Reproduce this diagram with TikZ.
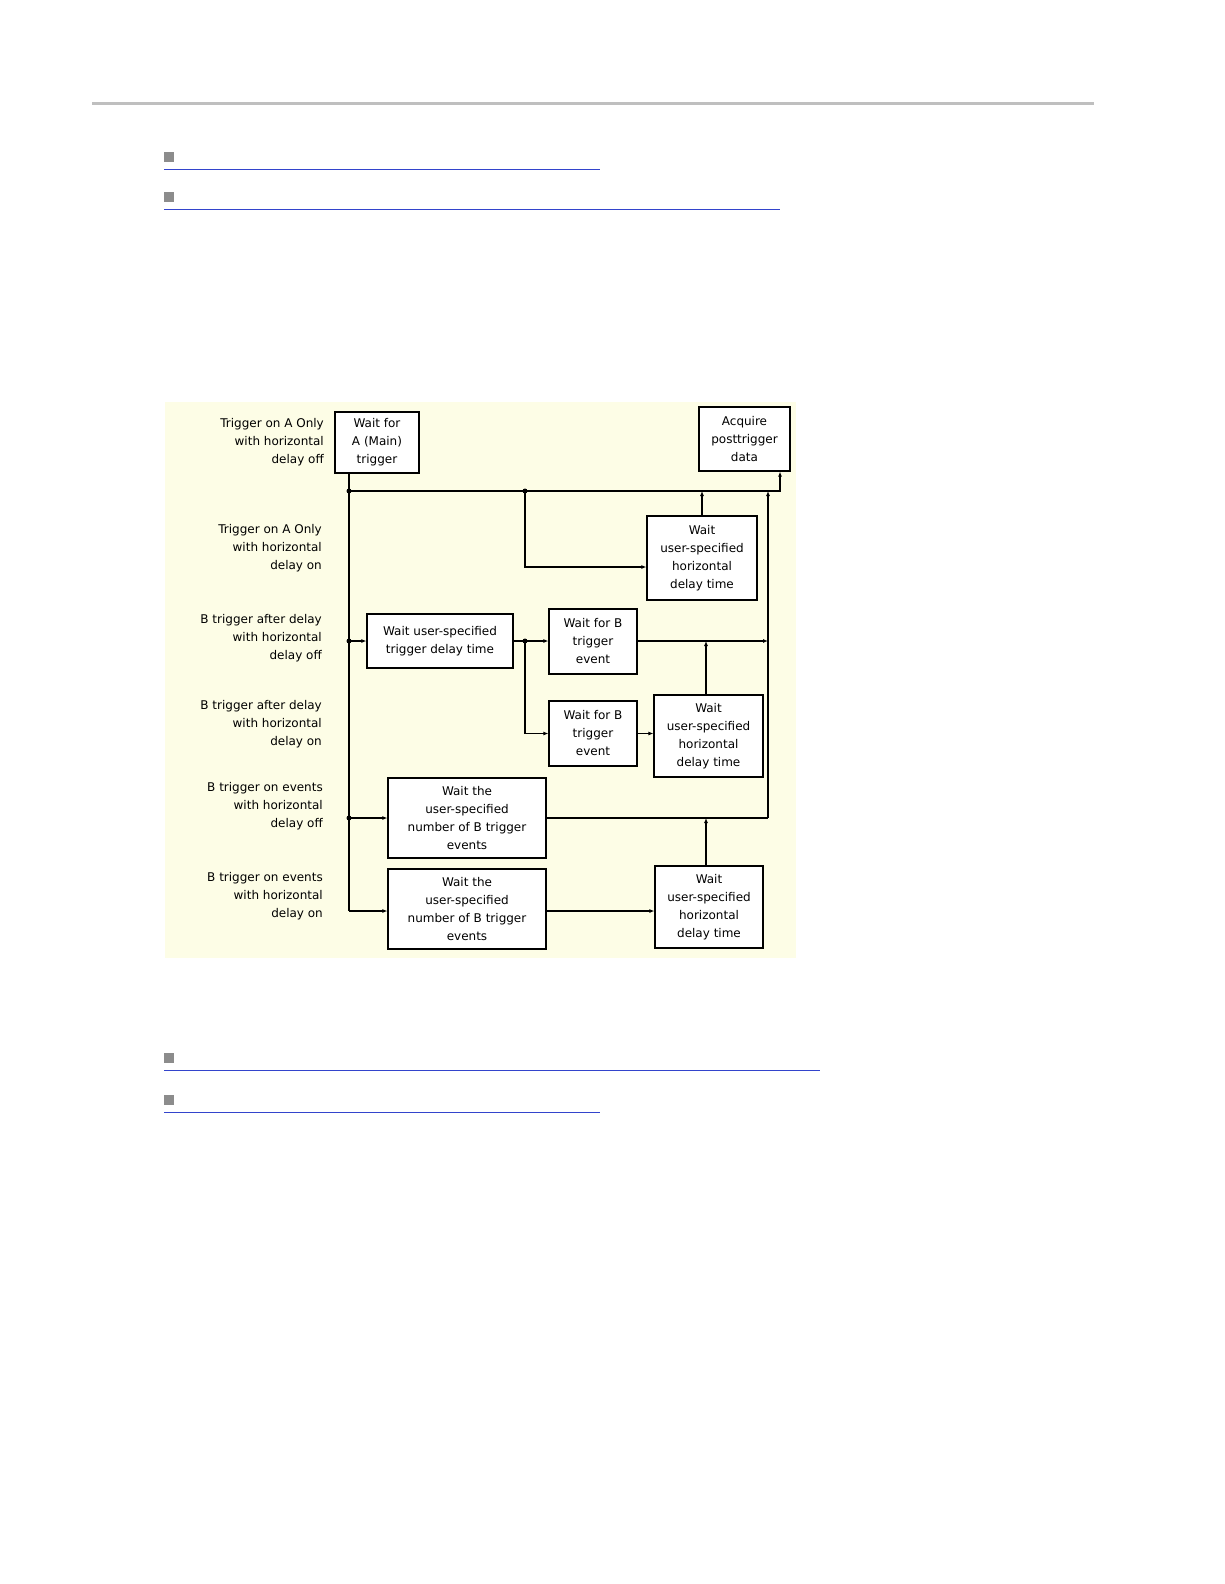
\documentclass[tikz,border=0pt]{standalone}
\usepackage{fontspec}
\setmainfont{DejaVu Sans}
\usetikzlibrary{arrows.meta}
\definecolor{bg}{HTML}{FDFDE6}
\definecolor{lnk}{HTML}{3344CC}
\begin{document}
\begin{tikzpicture}[x=1pt,y=-1pt,
 box/.style={draw,line width=1.2pt,fill=white,inner sep=0pt,align=center,font=\fontsize{12}{18}\selectfont},
 lab/.style={anchor=east,align=right,inner sep=0pt,font=\fontsize{12}{18}\selectfont},
 ln/.style={line width=1.2pt},
 ar/.style={ln,-{Latex[length=5pt,width=4pt]}},
 dot/.style={circle,fill,inner sep=0pt,minimum size=5pt}]
\useasboundingbox (0,0) rectangle (1224,1584);
\draw[line width=3pt,color=black!25] (92,104) -- (1094,104);
\foreach \y/\e in {157/600,197/780,1058/820,1100/600}{
  \fill[black!45] (164,\y-5) rectangle (174,\y+5);
  \draw[lnk,line width=0.8pt] (164,\y+12) -- (\e,\y+12);}
\fill[bg] (165,402) rectangle (796,958);
\node[box,minimum width=84pt,minimum height=61pt] (A) at (377,442.5) {Wait for\\A (Main)\\trigger};
\node[box,minimum width=91pt,minimum height=64pt] (Q) at (744.5,439) {Acquire\\posttrigger\\data};
\node[box,minimum width=110pt,minimum height=84pt] (W1) at (702,558) {Wait\\user-specified\\horizontal\\delay time};
\node[box,minimum width=146pt,minimum height=54pt] (TD) at (440,641) {Wait user-specified\\trigger delay time};
\node[box,minimum width=88pt,minimum height=65pt] (B1) at (593,641.5) {Wait for B\\trigger\\event};
\node[box,minimum width=88pt,minimum height=65pt] (B2) at (593,733.5) {Wait for B\\trigger\\event};
\node[box,minimum width=109pt,minimum height=82pt] (W2) at (708.5,736) {Wait\\user-specified\\horizontal\\delay time};
\node[box,minimum width=158pt,minimum height=80pt] (E1) at (467,818) {Wait the\\user-specified\\number of B trigger\\events};
\node[box,minimum width=158pt,minimum height=80pt] (E2) at (467,909) {Wait the\\user-specified\\number of B trigger\\events};
\node[box,minimum width=108pt,minimum height=82pt] (W3) at (709,907) {Wait\\user-specified\\horizontal\\delay time};
\node[lab] (L1) at (324,442) {Trigger on A Only\\with horizontal\\delay off};
\node[lab] (L2) at (322,548) {Trigger on A Only\\with horizontal\\delay on};
\node[lab] (L3) at (322,638) {B trigger after delay\\with horizontal\\delay off};
\node[lab] (L4) at (322,724) {B trigger after delay\\with horizontal\\delay on};
\node[lab] (L5) at (323,806) {B trigger on events\\with horizontal\\delay off};
\node[lab] (L6) at (323,896) {B trigger on events\\with horizontal\\delay on};
\coordinate (j1) at (349,491);
\coordinate (j2) at (525,491);
\coordinate (j3) at (349,641);
\coordinate (j4) at (525,641);
\coordinate (j5) at (349,818);
\coordinate (j6) at (349,911);
\coordinate (r) at (768,818);
\node[dot] at (j1) {}; \node[dot] at (j2) {}; \node[dot] at (j3) {};
\node[dot] at (j4) {}; \node[dot] at (j5) {};
\draw[ln] (A.south -| j1) -- (j6);
\draw[ar] (j1) -- (780,491) -- (Q.south -| 780,0);
\draw[ar] (j2) |- (W1.west |- 0,567);
\draw[ar] (W1.north) -- (W1.north |- j1);
\draw[ar] (r) -- (768,491);
\draw[ar] (j3) -- (TD.west |- j3);
\draw[ar] (TD.east |- j4) -- (B1.west |- j4);
\draw[ar] (B1.east |- j4) -- (768,641);
\draw[ar] (j4) |- (B2.west);
\draw[ar] (B2.east) -- (W2.west |- B2.east);
\draw[ar] (W2.north -| 706,0) -- (706,641);
\draw[ar] (j5) -- (E1.west |- j5);
\draw[ln] (E1.east |- r) -- (r);
\draw[ar] (W3.north -| 706,0) -- (706,818);
\draw[ar] (j6) -- (E2.west |- j6);
\draw[ar] (E2.east |- j6) -- (W3.west |- j6);
\end{tikzpicture}
\end{document}
